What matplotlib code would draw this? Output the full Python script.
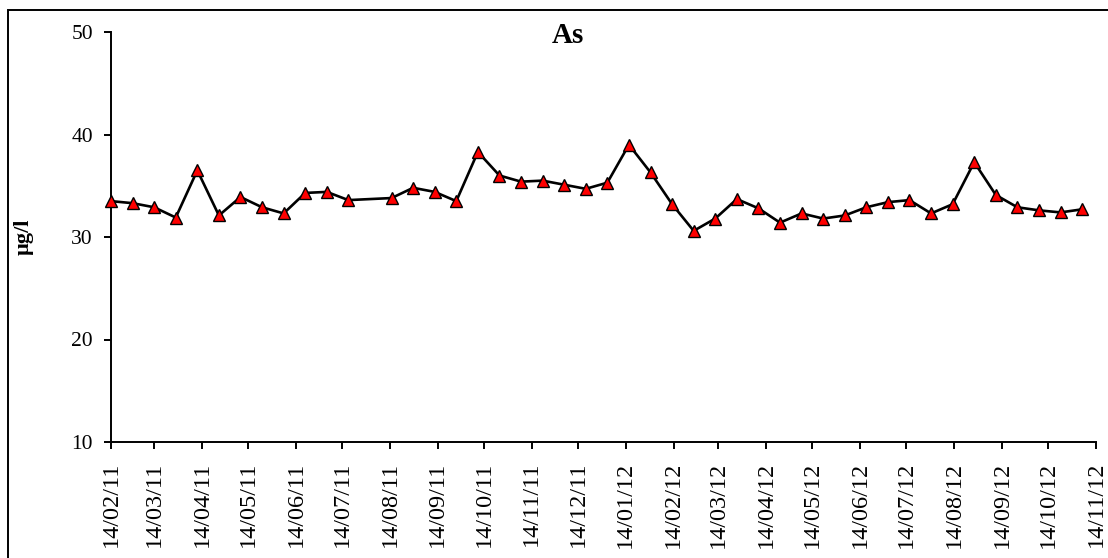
import pandas as pd
import matplotlib.pyplot as plt
import matplotlib.dates as mdates
from matplotlib.patches import Rectangle

# --- Data ---
dates = [
    "2011-02-14", "2011-02-28", "2011-03-14", "2011-03-28", "2011-04-11",
    "2011-04-25", "2011-05-09", "2011-05-23", "2011-06-06", "2011-06-20",
    "2011-07-04", "2011-07-18", "2011-08-15", "2011-08-29", "2011-09-12",
    "2011-09-26", "2011-10-10", "2011-10-24", "2011-11-07", "2011-11-21",
    "2011-12-05", "2011-12-19", "2012-01-02", "2012-01-16", "2012-01-30",
    "2012-02-13", "2012-02-27", "2012-03-12", "2012-03-26", "2012-04-09",
    "2012-04-23", "2012-05-07", "2012-05-21", "2012-06-04", "2012-06-18",
    "2012-07-02", "2012-07-16", "2012-07-30", "2012-08-13", "2012-08-27",
    "2012-09-10", "2012-09-24", "2012-10-08", "2012-10-22", "2012-11-05",
]
as_values = [
    33.5, 33.3, 32.9, 31.9, 36.5, 32.1, 33.9, 32.9, 32.3, 34.3,
    34.4, 33.6, 33.8, 34.8, 34.4, 33.5, 38.3, 36.0, 35.4, 35.5,
    35.1, 34.7, 35.3, 39.0, 36.3, 33.2, 30.6, 31.8, 33.7, 32.8,
    31.4, 32.3, 31.8, 32.1, 32.9, 33.4, 33.6, 32.3, 33.2, 37.3,
    34.1, 32.9, 32.6, 32.4, 32.7,
]
tick_dates = [
    "2011-02-14", "2011-03-14", "2011-04-14", "2011-05-14", "2011-06-14",
    "2011-07-14", "2011-08-14", "2011-09-14", "2011-10-14", "2011-11-14",
    "2011-12-14", "2012-01-14", "2012-02-14", "2012-03-14", "2012-04-14",
    "2012-05-14", "2012-06-14", "2012-07-14", "2012-08-14", "2012-09-14",
    "2012-10-14", "2012-11-14",
]
y_ticks = [10, 20, 30, 40, 50]

x = pd.to_datetime(dates)

plt.rcParams['font.family'] = ['Liberation Serif', 'DejaVu Serif']

# --- Figure ---
fig = plt.figure(figsize=(11.08, 5.58), dpi=100)
ax = fig.add_axes([111 / 1108, 1 - 442 / 558, (1096 - 111) / 1108, (442 - 32) / 558])

ax.plot(x, as_values, color='black', linewidth=1.9, marker='^', markersize=9,
        markerfacecolor='#ff0000', markeredgecolor='black', markeredgewidth=1.0,
        zorder=3, clip_on=False)

# --- Axes ---
ax.set_xlim(pd.Timestamp(tick_dates[0]), pd.Timestamp(tick_dates[-1]))
ax.set_ylim(10, 50)
ax.set_yticks(y_ticks)
ax.set_xticks(pd.to_datetime(tick_dates))
ax.xaxis.set_major_formatter(mdates.DateFormatter('%d/%m/%y'))
plt.setp(ax.get_xticklabels(), rotation=90)

ax.spines['top'].set_visible(False)
ax.spines['right'].set_visible(False)
ax.spines['left'].set_linewidth(1.4)
ax.spines['bottom'].set_linewidth(1.4)
ax.tick_params(axis='both', direction='out', length=5, width=1.4)
ax.tick_params(axis='y', pad=8, labelsize=15.5)
ax.tick_params(axis='x', pad=9, labelsize=17.5)

ax.set_ylabel('µg/l', fontsize=16, fontweight='bold')
ax.yaxis.set_label_coords(-0.079, 0.5)

# title sits inside the plot area
fig.text(568 / 1108, 1 - 43 / 558, 'As', fontsize=21, fontweight='bold',
         ha='center', va='baseline')

# --- Outer frame (open to the right and bottom) ---
fig.patches.append(Rectangle((8 / 1108, -0.05), 1.1, 1 - 9.5 / 558 + 0.05,
                             transform=fig.transFigure, fill=False,
                             edgecolor='black', linewidth=1.4, clip_on=False))

plt.savefig('out.png', dpi=100)
plt.close(fig)
